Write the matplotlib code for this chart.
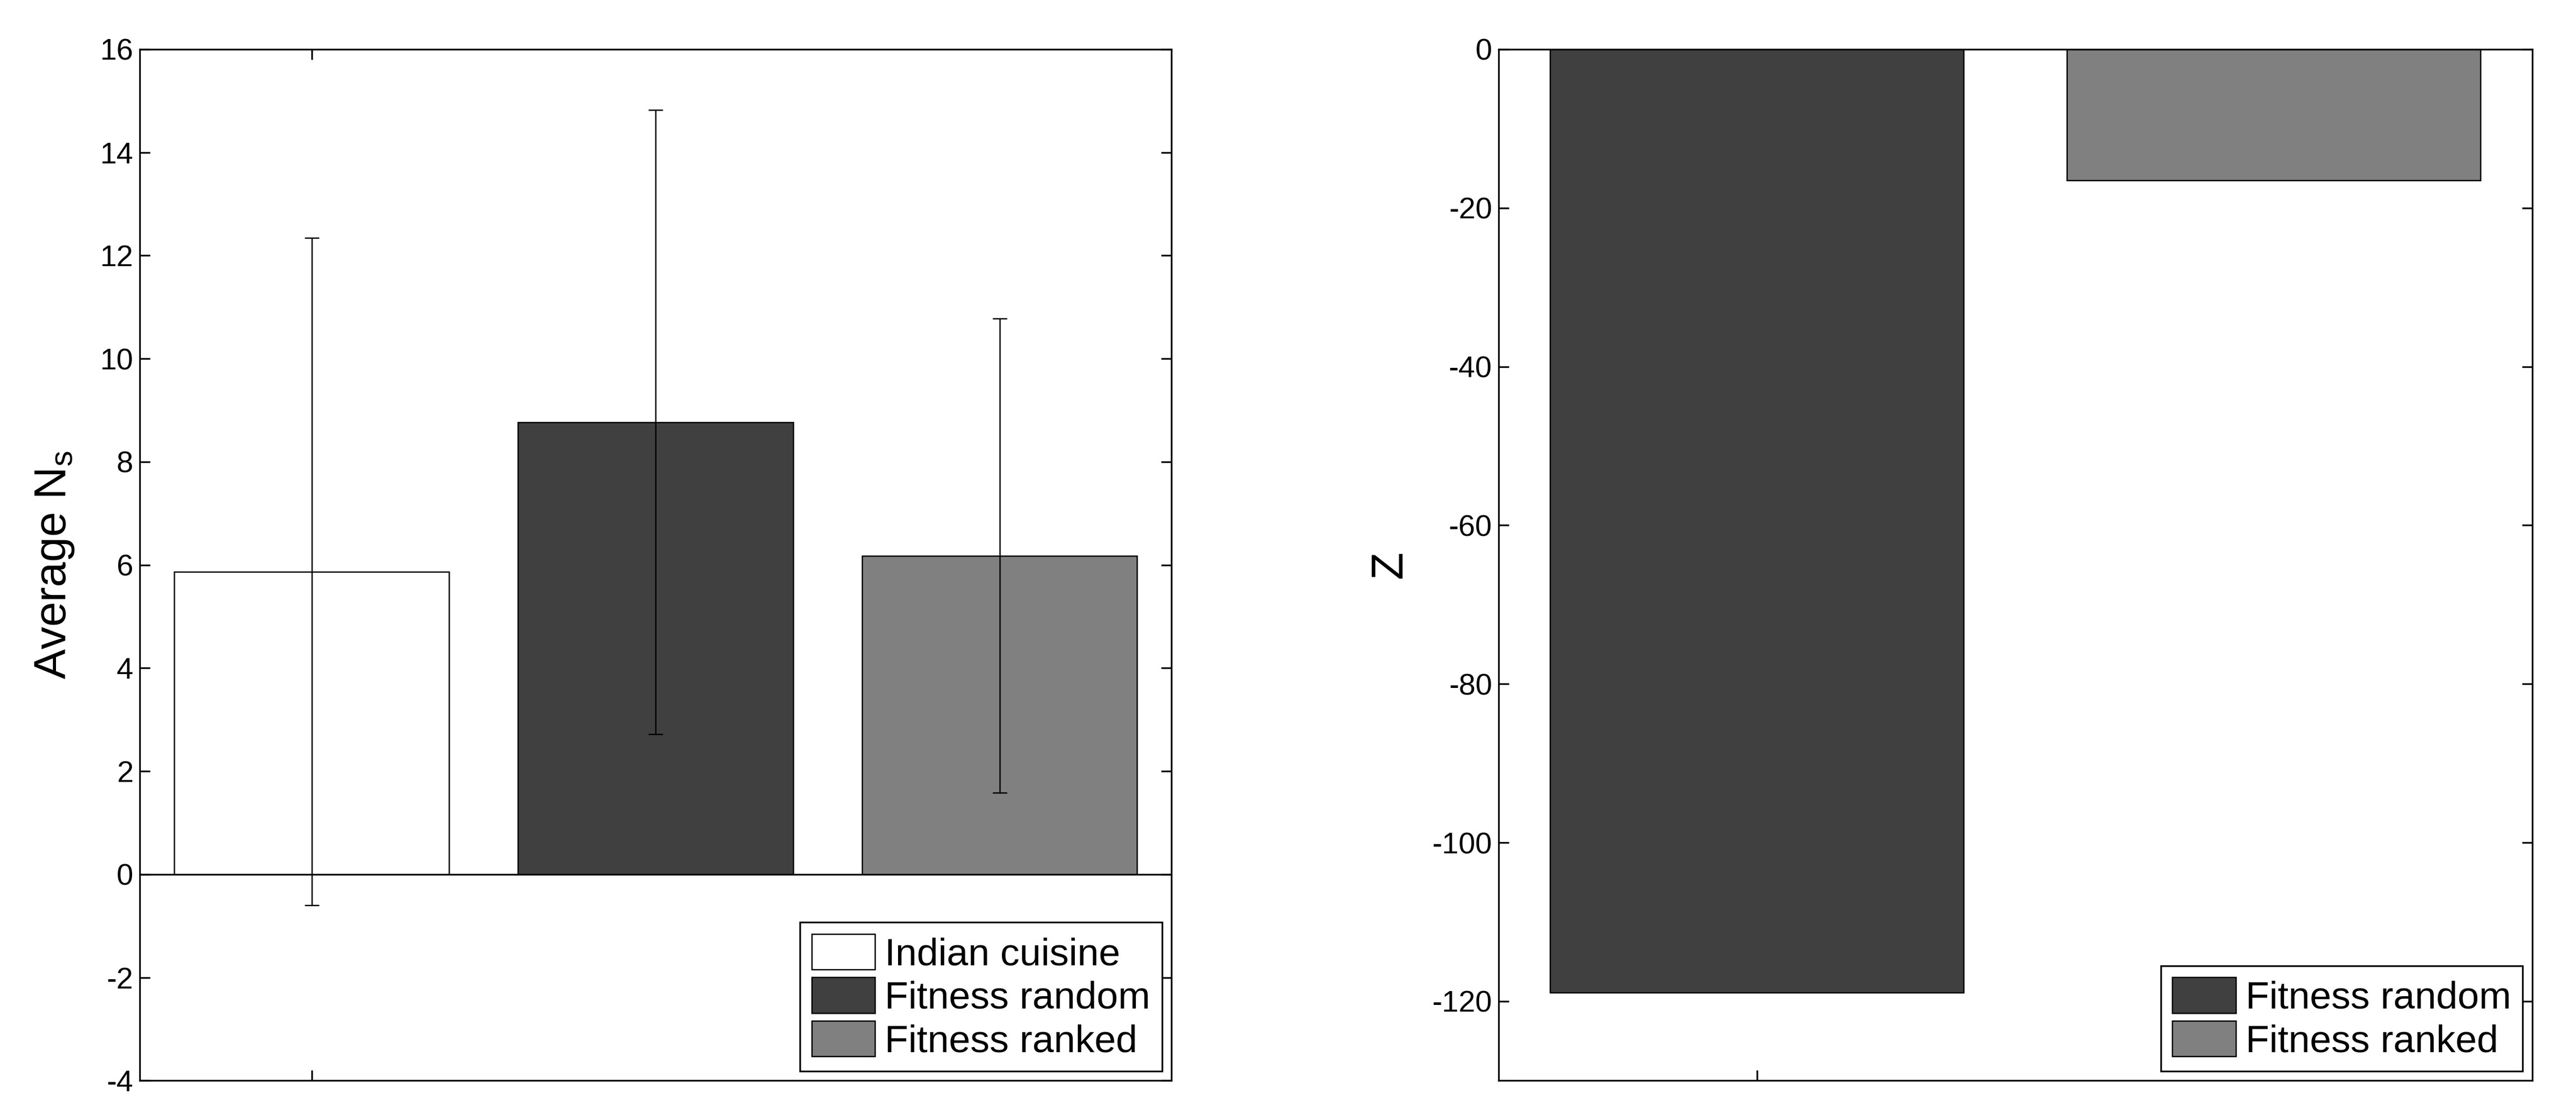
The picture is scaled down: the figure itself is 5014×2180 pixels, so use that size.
import numpy as np
import matplotlib
matplotlib.use("Agg")
import matplotlib.pyplot as plt

plt.rcParams["font.family"] = ["Liberation Sans", "DejaVu Sans"]
plt.rcParams["mathtext.default"] = "regular"
plt.rcParams["axes.unicode_minus"] = False

# left panel: average N_s with error bars
left_labels = ["Indian cuisine", "Fitness random", "Fitness ranked"]
left_means = [5.87, 8.77, 6.18]
left_err = [6.47, 6.05, 4.60]
left_colors = ["#ffffff", "#404040", "#808080"]
left_yticks = [-4, -2, 0, 2, 4, 6, 8, 10, 12, 14, 16]

# right panel: Z values
right_labels = ["Fitness random", "Fitness ranked"]
right_values = [-118.9, -16.5]
right_colors = ["#404040", "#808080"]
right_yticks = [-120, -100, -80, -60, -40, -20, 0]

TICK_FS = 14
LEG_FS = 18
LAB_FS = 21


def style_axes(ax):
    for sp in ax.spines.values():
        sp.set_linewidth(0.8)
    ax.tick_params(direction="in", length=4.8, width=0.8, top=True, right=True,
                   labelsize=TICK_FS, pad=3)
    ax.set_xticks([0])
    ax.set_xticklabels([""])


def add_legend(ax):
    leg = ax.legend(loc="lower right", fontsize=LEG_FS, frameon=True, fancybox=False,
                    edgecolor="black", framealpha=1, borderaxespad=0.25, borderpad=0.3,
                    handlelength=1.65, handleheight=1.05, handletextpad=0.25,
                    labelspacing=0.12)
    leg.get_frame().set_linewidth(0.8)
    return leg


fig = plt.figure(figsize=(5015 / 300, 2180 / 300), dpi=300)

ax1 = fig.add_axes([0.0542, 0.0352, 0.4005, 0.9208])
x1 = np.arange(len(left_means))
ax1.bar(x1, left_means, width=0.8, color=left_colors, edgecolor="black",
        linewidth=0.6, label=left_labels, zorder=2)
ax1.errorbar(x1, left_means, yerr=left_err, fmt="none", ecolor="black",
             elinewidth=0.6, capsize=3.4, capthick=0.6, zorder=3)
ax1.axhline(0, color="black", linewidth=0.8, zorder=4)
ax1.set_xlim(-0.5, 2.5)
ax1.set_ylim(-4, 16)
ax1.set_yticks(left_yticks)
style_axes(ax1)
ax1.set_ylabel("Average N$_s$", fontsize=LAB_FS, labelpad=11)
add_legend(ax1)

ax2 = fig.add_axes([0.5816, 0.0352, 0.4012, 0.9208])
x2 = np.arange(len(right_values))
ax2.bar(x2, right_values, width=0.8, color=right_colors, edgecolor="black",
        linewidth=0.6, label=right_labels, zorder=2)
ax2.set_xlim(-0.5, 1.5)
ax2.set_ylim(-130, 0)
ax2.set_yticks(right_yticks)
style_axes(ax2)
ax2.set_ylabel("Z", fontsize=LAB_FS, labelpad=10)
add_legend(ax2)

fig.savefig("out.png", dpi=300, facecolor="white")
plt.close(fig)
